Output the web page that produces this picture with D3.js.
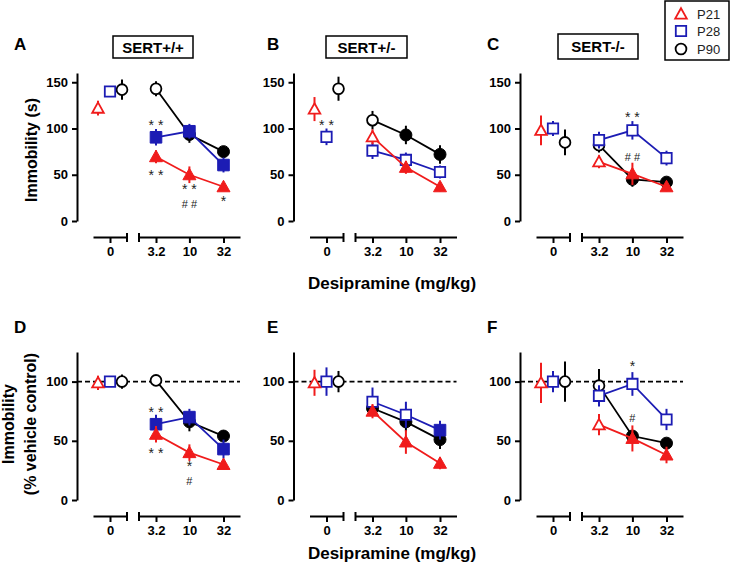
<!DOCTYPE html>
<html><head><meta charset="utf-8">
<script src="https://cdn.jsdelivr.net/npm/d3@7"></script>
<style>
body{margin:0;background:#fff;}
svg{display:block;font-family:"Liberation Sans",Arial,sans-serif;}
</style></head><body>
<svg id="chart" width="731" height="571"></svg>
<script>
// ---------- data ----------
const seriesNames = ["P21","P28","P90"];
const seriesColors = ["#f01c1c","#1c1cb4","#000000"];
const seriesShapes = ["triangle","square","circle"];
const doseLabels = ["0","3.2","10","32"];
const doseValues = [0, 3.2, 10, 32];
const panelLetters = ["A","B","C","D","E","F"];
const genotypes = ["SERT+/+","SERT+/-","SERT-/-"];
const yTicksTop = [0,50,100,150];
const yTicksBottom = [0,50,100];
const yLabelTop = "Immobility (s)";
const yLabelBottom = ["Immobility","(% vehicle control)"];
const xLabel = "Desipramine (mg/kg)";

// rows: P21, P28, P90 ; columns: dose 0, 3.2, 10, 32
const meanA = [[122,69.5,50,37],[140,90.5,97,60.5],[142,143,93.5,75]];
const errA  = [[8,7,9,4],[5,9,8,8],[11,8,9,6]];
const fillA = [[0,1,1,1],[0,1,1,1],[0,0,1,1]];

const meanB = [[121,91,58,37],[91,76,66,53],[143,109,93,72]];
const errB  = [[13,8,7,5],[9,9,8,7],[13,10,10,10]];
const fillB = [[0,0,1,1],[0,0,0,0],[0,0,1,1]];

const meanC = [[98,64,51,37],[100,87.5,98,68],[85,82,45,42]];
const errC  = [[16,7,12,5],[8,9,10,8],[14,8,8,5]];
const fillC = [[0,0,1,1],[0,0,0,0],[0,0,1,1]];

const meanD = [[99,55.5,40,30],[100,64,70,43],[100,101,66,54]];
const errD  = [[6,7,7,3],[3,8,7,8],[6,4,8,4]];
const fillD = [[0,1,1,1],[0,1,1,1],[0,0,1,1]];

const meanE = [[99,75,49,31],[100,83,72,59],[100,77.5,66,51]];
const errE  = [[11,6,10,5],[12,12,11,8],[9,5,8,8]];
const fillE = [[0,1,1,1],[0,0,0,1],[0,1,1,1]];

const meanF = [[99,63.6,52,38],[100,88,98,68],[100,96.6,54,48]];
const errF  = [[17,9,11,7],[9,9,10,9],[17,14,4,4]];
const fillF = [[0,0,1,1],[0,0,0,0],[0,0,1,1]];

// significance marks: panel, dose, y (value at centre of the mark group), lines of text
const annotations = [
  ["A",3.2,107,["* *"]],["A",3.2,52.6,["* *"]],["A",10,28.3,["* *","# #"]],["A",32,24.5,["*"]],
  ["B",0,106.7,["* *"]],
  ["C",10,115.4,["* *"]],["C",10,69.5,["# #"]],
  ["D",3.2,77,["* *"]],["D",3.2,42,["* *"]],["D",10,23.6,["*","#"]],
  ["F",10,115.7,["*"]],["F",10,69,["#"]]
];

const panels = [
  {mean:meanA, err:errA, fill:fillA},
  {mean:meanB, err:errB, fill:fillB},
  {mean:meanC, err:errC, fill:fillC},
  {mean:meanD, err:errD, fill:fillD},
  {mean:meanE, err:errE, fill:fillE},
  {mean:meanF, err:errF, fill:fillF}
];

// ---------- layout ----------
const svg = d3.select("#chart");
const colX = [77, 293.5, 520];
const letterX = [14, 267, 487];
const rows = [
  {y0:221, y1:73, max:160, axisY:237, ticks:yTicksTop, letterY:50},
  {y0:500, y1:352, max:125, axisY:516, ticks:yTicksBottom, letterY:333}
];
const titleBoxes = [[113,36,80,22],[326,36,81,22],[558,34,80,25]];
const zeroOffsets = [-12, 0, 12];
const drawOrder = [2,1,0];

function markerPath(shape, filled){
  if(shape==="triangle") return filled ? "M0,-6.5L6.5,5L-6.5,5Z" : "M0,-5.8L5.8,4.6L-5.8,4.6Z";
  if(shape==="square") return filled ? "M-5.8,-5.8h11.6v11.6h-11.6Z" : "M-5.2,-5.2h10.4v10.4h-10.4Z";
  const r = filled?6:5.4;
  return `M${r},0A${r},${r} 0 1,1 ${-r},0A${r},${r} 0 1,1 ${r},0Z`;
}
function styleAxis(sel){
  sel.attr("font-family",null).attr("font-size",null);
  sel.selectAll("path,line").attr("stroke","#000").attr("stroke-width",2);
  sel.selectAll("text").attr("fill","#000").style("font-size","13px").style("font-weight","bold");
}

panels.forEach((p,i)=>{
  const col=i%3, row=Math.floor(i/3), ax=colX[col], R=rows[row];
  const y=d3.scaleLinear().domain([0,R.max]).range([R.y0,R.y1]);
  const xZero=d3.scaleLinear().domain([-1,1]).range([ax+16,ax+50]);
  const xDose=d3.scaleLog().domain([3.2,32]).range([ax+79,ax+146.5]);
  const xDoseAxis=d3.scaleLog().domain([xDose.invert(ax+62), xDose.invert(ax+163)]).range([ax+62,ax+163]);
  const g=svg.append("g");

  // y axis
  const yAx=g.append("g").attr("transform",`translate(${ax},0)`)
    .call(d3.axisLeft(y).tickValues(R.ticks).tickSize(5).tickSizeOuter(0).tickPadding(4));
  styleAxis(yAx);

  // x axis (broken)
  const xa1=g.append("g").attr("transform",`translate(0,${R.axisY})`)
    .call(d3.axisBottom(xZero).tickValues([0]).tickFormat(()=>doseLabels[0]).tickSize(6).tickSizeOuter(0).tickPadding(4));
  styleAxis(xa1);
  const xa2=g.append("g").attr("transform",`translate(0,${R.axisY})`)
    .call(d3.axisBottom(xDoseAxis).tickValues(doseValues.slice(1)).tickFormat((d,k)=>doseLabels[k+1]).tickSize(6).tickSizeOuter(0).tickPadding(4));
  styleAxis(xa2);
  g.append("line").attr("x1",xZero.range()[1]).attr("x2",xZero.range()[1])
    .attr("y1",R.axisY-4).attr("y2",R.axisY+5).attr("stroke","#000").attr("stroke-width",2);
  g.append("line").attr("x1",xDoseAxis.range()[0]).attr("x2",xDoseAxis.range()[0])
    .attr("y1",R.axisY-4).attr("y2",R.axisY+5).attr("stroke","#000").attr("stroke-width",2);

  // dashed reference line
  if(row===1){
    g.append("line").attr("x1",ax).attr("x2",xDoseAxis.range()[1])
      .attr("y1",y(100)).attr("y2",y(100))
      .attr("stroke","#000").attr("stroke-width",1.8).attr("stroke-dasharray","5,3");
  }

  const posX=(s,k)=> k===0 ? xZero(0)+zeroOffsets[s] : xDose(doseValues[k]);

  drawOrder.forEach(s=>{
    const color=seriesColors[s];
    const pts=doseValues.map((d,k)=>({x:posX(s,k), m:p.mean[s][k], e:p.err[s][k], f:p.fill[s][k]}));
    const sg=g.append("g");
    sg.selectAll("line.err").data(pts).enter().append("line")
      .attr("x1",d=>d.x).attr("x2",d=>d.x)
      .attr("y1",d=>y(d.m+d.e)).attr("y2",d=>y(d.m-d.e))
      .attr("stroke",color).attr("stroke-width",2);
    sg.append("path").datum(pts.slice(1))
      .attr("d",d3.line().x(d=>d.x).y(d=>y(d.m)))
      .attr("fill","none").attr("stroke",color).attr("stroke-width",1.8);
    sg.selectAll("path.mk").data(pts).enter().append("path")
      .attr("transform",d=>`translate(${d.x},${y(d.m)})`)
      .attr("d",d=>markerPath(seriesShapes[s], d.f))
      .attr("fill",d=>d.f?color:"#fff")
      .attr("stroke",color).attr("stroke-width",d=>d.f?1:1.8);
  });

  // annotations: lines stacked so their text boxes do not overlap
  annotations.filter(a=>a[0]===panelLetters[i]).forEach(a=>{
    const k=doseValues.indexOf(a[1]);
    const x=k===0?xZero(0):xDose(a[1]);
    const target=y(a[2]);
    const info=a[3].map(line=>{
      const isStar=line.indexOf("*")>=0;
      const fs=isStar?14:11;
      return {line, fs, cfrac:isStar?0.335:0.545};
    });
    let top=0;
    info.forEach(d=>{ d.top=top; d.gc=top+d.cfrac*d.fs; top+=1.117*d.fs+0.6; });
    const mid=(info[0].gc+info[info.length-1].gc)/2;
    const shift=target-mid;
    info.forEach(d=>{
      g.append("text").attr("x",x).attr("y",shift+d.top+0.905*d.fs)
        .attr("text-anchor","middle").attr("fill","#222").style("font-size",d.fs+"px").text(d.line);
    });
  });

  // panel letter
  g.append("text").attr("x",letterX[col]).attr("y",R.letterY)
    .style("font-size","17px").style("font-weight","bold").text(panelLetters[i]);

  // genotype title box
  if(row===0){
    const b=titleBoxes[col];
    g.append("rect").attr("x",b[0]).attr("y",b[1]).attr("width",b[2]).attr("height",b[3])
      .attr("fill","#fff").attr("stroke","#000").attr("stroke-width",1.5);
    g.append("text").attr("x",b[0]+b[2]/2).attr("y",b[1]+b[3]/2+5.5).attr("text-anchor","middle")
      .style("font-size","15px").style("font-weight","bold").text(genotypes[col]);
  }
});

// y axis titles
svg.append("text").attr("transform","translate(37,150) rotate(-90)").attr("text-anchor","middle")
  .style("font-size","16px").style("font-weight","bold").text(yLabelTop);
svg.append("text").attr("transform","translate(14,424) rotate(-90)").attr("text-anchor","middle")
  .style("font-size","16px").style("font-weight","bold").text(yLabelBottom[0]);
svg.append("text").attr("transform","translate(36,424) rotate(-90)").attr("text-anchor","middle")
  .style("font-size","16px").style("font-weight","bold").text(yLabelBottom[1]);

// x axis titles
svg.append("text").attr("x",392).attr("y",289).attr("text-anchor","middle")
  .style("font-size","17px").style("font-weight","bold").text(xLabel);
svg.append("text").attr("x",392).attr("y",559).attr("text-anchor","middle")
  .style("font-size","17px").style("font-weight","bold").text(xLabel);

// legend
const lg=svg.append("g");
lg.append("rect").attr("x",665).attr("y",1).attr("width",64).attr("height",59)
  .attr("fill","#fff").attr("stroke","#000").attr("stroke-width",1.5);
const legY=[14,31,49];
seriesNames.forEach((n,s)=>{
  lg.append("path").attr("transform",`translate(681,${legY[s]})`)
    .attr("d",markerPath(seriesShapes[s],0)).attr("fill","#fff")
    .attr("stroke",seriesColors[s]).attr("stroke-width",1.8);
  lg.append("text").attr("x",697).attr("y",legY[s]+5).style("font-size","13px").attr("fill","#222").text(n);
});
</script>
</body></html>
